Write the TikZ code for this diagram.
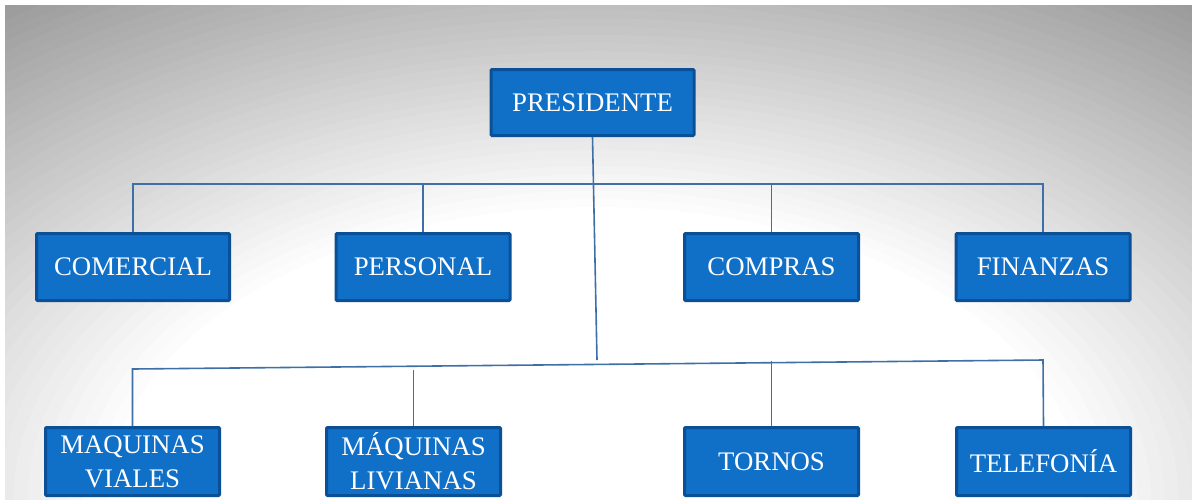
\documentclass[tikz,border=0pt]{standalone}
\usepackage{fontspec}
\setmainfont{Liberation Serif}

\definecolor{cajaazul}{RGB}{16,112,199}
\definecolor{bordeazul}{RGB}{11,80,150}
\definecolor{lineaazul}{RGB}{62,112,168}
\definecolor{fondoborde}{RGB}{152,152,152}

\begin{document}
\begin{tikzpicture}[x=0.5pt,y=-0.5pt]
			\tikzstyle{caja}=[rectangle,draw=bordeazul,line width=1.5pt,fill=cajaazul,text=white,minimum width=87pt,minimum height=33.5pt,inner sep=2pt,align=center,rounded corners=0.5pt,font=\fontsize{13.4}{17}\selectfont]
			\tikzstyle{enlace}=[lineaazul,line width=0.8pt]
				\useasboundingbox (0,0) rectangle (1192,499);
				% fondo degradado
				\begin{scope}
					\clip (5,5) rectangle (1192,499);
					\foreach \i [evaluate=\i as \r using 310-\i*4.1, evaluate=\i as \rx using (310-\i*4.1)*5/3, evaluate=\i as \m using 100-\i*2.5] in {0,...,40}
						\fill [fondoborde!\m!white] (596,499) ellipse ({\rx pt} and {\r pt});
				\end{scope}
				\coordinate (barra) at (0,184);
				\coordinate (tronco) at (597,360);
				\coordinate (busI) at (0,369);
				\coordinate (busD) at (1043,360);
				\coordinate (tomaL) at (0,370);
				\coordinate (tomaT) at (0,361);
				\node [caja,minimum width=101.5pt,minimum height=33pt] (presidente) at (592.5,102.5) {PRESIDENTE};
				\node [caja,minimum width=96.5pt] (comercial) at (133,267) {COMERCIAL};
				\node [caja] (personal) at (423,267) {PERSONAL};
				\node [caja] (compras) at (771.5,267) {COMPRAS};
				\node [caja] (finanzas) at (1043,267) {FINANZAS};
				\node [caja,minimum height=34pt] (viales) at (132.5,461.5) {MAQUINAS\\VIALES};
				\node [caja,minimum height=34pt] (livianas) at (413.5,461.5) {MÁQUINAS\\LIVIANAS};
				\node [caja,minimum height=34pt] (tornos) at (771.5,461.5) {TORNOS};
				\node [caja,minimum height=34pt] (telefonia) at (1043.5,461.5) {TELEFONÍA};
				\draw [enlace] (presidente.south) -- (tronco);
				\draw [enlace] (comercial.north) |- (finanzas.north |- barra) -- (finanzas.north);
				\draw [enlace] (personal.north) -- (personal.north |- barra);
				\draw [enlace] (compras.north) -- (compras.north |- barra);
				\draw [enlace] (viales.north) -- (viales.north |- busI) -- (busD) -- (telefonia.north);
				\draw [enlace] (livianas.north) -- (livianas.north |- tomaL);
				\draw [enlace] (tornos.north) -- (tornos.north |- tomaT);
	\end{tikzpicture}
\end{document}
